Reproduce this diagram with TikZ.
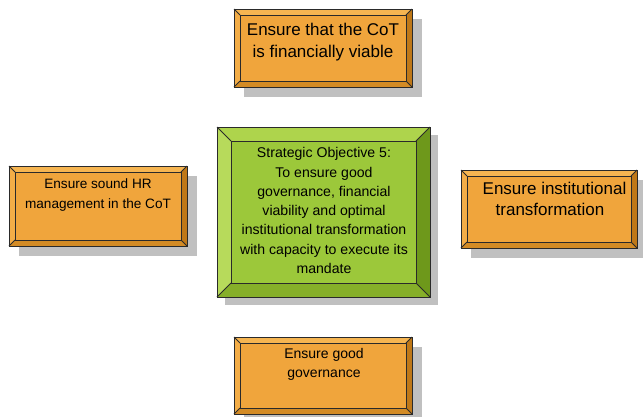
\documentclass[tikz,border=0pt]{standalone}
\usepackage{fontspec}
\setmainfont{Liberation Sans}
\definecolor{oface}{HTML}{F0A53C}
\definecolor{otop}{HTML}{F6B551}
\definecolor{oleft}{HTML}{F3AD47}
\definecolor{oright}{HTML}{BF7818}
\definecolor{obot}{HTML}{D38B25}
\definecolor{gface}{HTML}{9CC83A}
\definecolor{gtop}{HTML}{AED44C}
\definecolor{gleft}{HTML}{B7DA5B}
\definecolor{gright}{HTML}{6E981B}
\definecolor{gbot}{HTML}{86AF29}
\definecolor{shadowc}{HTML}{C0C0C0}
\definecolor{edgec}{HTML}{2A2A2A}
\tikzset{
  edgeline/.style={draw=edgec, line width=0.9pt},
  boxtext/.style={anchor=north, inner sep=0pt, align=center, text=black},
}
% #1 x1, #2 y1, #3 x2, #4 y2, #5 bevel, #6 palette letter, #7 shadow offset
\newcommand{\bevelbox}[7]{%
  \fill[shadowc] (#1+#7,#2+#7) rectangle (#3+#7,#4+#7);
  \fill[#6top] (#1,#2) -- (#3,#2) -- (#3-#5,#2+#5) -- (#1+#5,#2+#5) -- cycle;
  \fill[#6left] (#1,#2) -- (#1+#5,#2+#5) -- (#1+#5,#4-#5) -- (#1,#4) -- cycle;
  \fill[#6right] (#3,#2) -- (#3,#4) -- (#3-#5,#4-#5) -- (#3-#5,#2+#5) -- cycle;
  \fill[#6bot] (#1,#4) -- (#3,#4) -- (#3-#5,#4-#5) -- (#1+#5,#4-#5) -- cycle;
  \filldraw[#6face, edgeline] (#1+#5,#2+#5) rectangle (#3-#5,#4-#5);
  \draw[edgeline] (#1,#2) -- (#1+#5,#2+#5) (#3,#2) -- (#3-#5,#2+#5)
                  (#1,#4) -- (#1+#5,#4-#5) (#3,#4) -- (#3-#5,#4-#5);
  \draw[edgeline] (#1,#2) rectangle (#3,#4);
}
\begin{document}
\begin{tikzpicture}[x=1pt, y=-1pt]
\useasboundingbox (0,0) rectangle (643,416);
\fill[white] (0,0) rectangle (643,416);
% top
\bevelbox{234}{9}{412}{87}{6}{o}{10}
\node[boxtext, font=\fontsize{17}{21.5}\selectfont] (top) at (323,23.3)
  {Ensure that the CoT\\is financially viable};
% left
\bevelbox{9}{166}{187}{246}{6}{o}{10}
\node[boxtext, font=\fontsize{13.6}{20}\selectfont] (left) at (98,178.3)
  {Ensure sound HR\\management in the CoT};
% right
\bevelbox{461}{170}{637}{248}{6}{o}{10}
\node[boxtext, font=\fontsize{17}{21}\selectfont] (right) at (550,182)
  {\hspace*{9pt}Ensure institutional\\transformation};
% bottom
\bevelbox{234}{337}{412}{414}{6}{o}{10}
\node[boxtext, font=\fontsize{14}{19}\selectfont] (bottom) at (324,347.7)
  {Ensure good\\governance};
% centre
\bevelbox{217}{127}{430}{297}{14}{g}{8}
\node[boxtext, font=\fontsize{14.1}{19.3}\selectfont] (centre) at (324,147.3)
  {Strategic Objective 5:\\To ensure good\\governance, financial\\viability and optimal\\institutional transformation\\with capacity to execute its\\mandate};
\end{tikzpicture}
\end{document}
